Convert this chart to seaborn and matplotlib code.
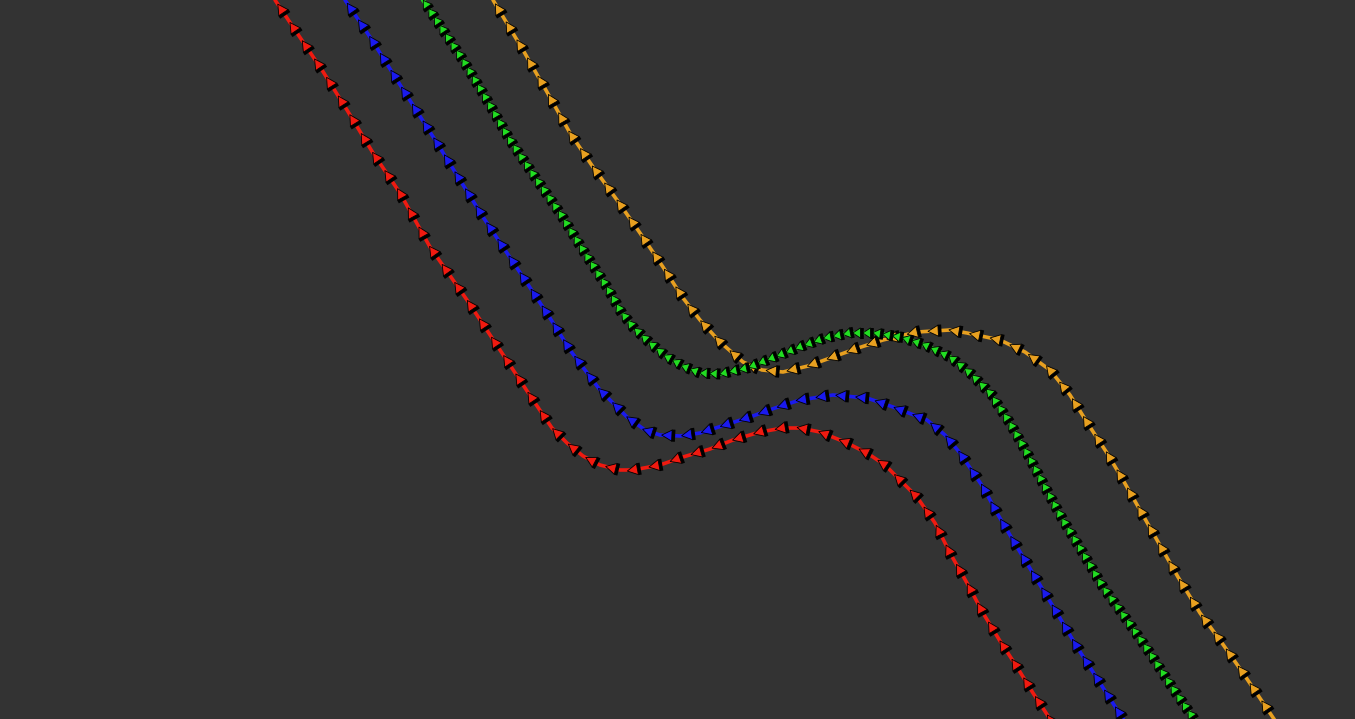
import numpy as np
import matplotlib
matplotlib.use('Agg')
import matplotlib.pyplot as plt
import matplotlib.colors as mcolors
import seaborn as sns
from matplotlib.patheffects import AbstractPathEffect
from matplotlib.path import Path
from matplotlib.transforms import IdentityTransform

# Fundo escuro, sem eixos
sns.set_theme(style='dark', rc={'axes.facecolor': '#333333', 'figure.facecolor': '#333333'})

red_x = [275, 293, 322, 347, 373, 400, 430, 467, 500, 533, 552, 567, 583, 600, 620, 633, 660, 683, 710,
         733, 760, 783, 800, 820, 845, 867, 885, 900, 917, 935, 950, 967, 983, 1000, 1017, 1033, 1052]
red_y = [0, 27, 70, 110, 153, 193, 247, 300, 350, 400, 428, 443, 456, 465, 470, 470, 465, 457, 449,
         440, 432, 428, 428, 432, 442, 453, 465, 480, 497, 523, 553, 583, 613, 641, 667, 693, 722]

blue_x = [345, 370, 397, 437, 460, 483, 505, 527, 550, 570, 600, 627, 645, 660, 680, 700, 725, 750, 775,
          800, 833, 867, 893, 927, 945, 960, 983, 997, 1017, 1037, 1057, 1077, 1100, 1125]
blue_y = [0, 37, 80, 143, 180, 217, 250, 283, 318, 350, 390, 417, 430, 435, 436, 433, 425, 417, 408,
          400, 395, 398, 407, 420, 435, 453, 487, 513, 547, 580, 613, 647, 683, 722]

green_x = [423, 443, 463, 487, 510, 535, 560, 583, 607, 620, 633, 650, 667, 685, 700, 720, 747, 775, 800,
           825, 850, 875, 900, 925, 950, 970, 990, 1010, 1027, 1045, 1063, 1083, 1103, 1127, 1150, 1172, 1196]
green_y = [0, 30, 60, 100, 140, 177, 213, 250, 287, 310, 327, 343, 357, 367, 373, 374, 368, 357, 347,
           338, 333, 333, 337, 345, 357, 373, 393, 423, 453, 487, 520, 553, 587, 620, 653, 687, 722]

orange_x = [493, 523, 547, 570, 593, 617, 640, 663, 683, 700, 720, 743, 762, 783, 808, 833, 858, 883,
            917, 950, 967, 1000, 1025, 1050, 1070, 1090, 1107, 1123, 1140, 1157, 1178, 1200, 1222, 1243, 1276]
orange_y = [0, 50, 92, 133, 167, 200, 233, 267, 298, 320, 342, 362, 370, 372, 366, 357, 348, 340,
            332, 330, 333, 340, 352, 370, 395, 427, 453, 480, 510, 540, 577, 613, 643, 673, 722]


class ArrowBeads(AbstractPathEffect):
    """Desenha pequenas setas ao longo da linha (estilo, não dados)."""

    def __init__(self, spacing=20, length=9, width=8, color='red'):
        super().__init__()
        self.spacing = spacing
        self.length = length
        self.width = width
        self.color = mcolors.to_rgb(color)

    def draw_path(self, renderer, gc, tpath, affine, rgbFace=None):
        renderer.draw_path(gc, tpath, affine, rgbFace)
        v = affine.transform(tpath.vertices)
        d = np.diff(v, axis=0)
        L = np.hypot(d[:, 0], d[:, 1])
        cum = np.concatenate([[0], np.cumsum(L)])
        s = np.arange(self.spacing / 2, cum[-1], self.spacing)
        i = np.clip(np.searchsorted(cum, s, side='right') - 1, 0, len(L) - 1)
        px = np.interp(s, cum, v[:, 0])
        py = np.interp(s, cum, v[:, 1])
        ux, uy = d[i, 0] / L[i], d[i, 1] / L[i]
        nx, ny = -uy, ux

        gc_tri = renderer.new_gc()
        gc_tri.copy_properties(gc)
        gc_tri.set_linewidth(0.6)
        gc_tri.set_foreground('black')
        gc_bar = renderer.new_gc()
        gc_bar.copy_properties(gc)
        gc_bar.set_linewidth(2.6)
        gc_bar.set_foreground('black')
        gc_bar.set_capstyle('butt')

        h = self.length / 2
        w = self.width / 2
        for k in range(len(s)):
            p = np.array([px[k], py[k]])
            u = np.array([ux[k], uy[k]])
            n = np.array([nx[k], ny[k]])
            tip = p - u * h
            base = p + u * h * 0.7
            bar = Path([base + n * w * 1.1 + u * 1.5, base - n * w * 1.1 + u * 1.5])
            renderer.draw_path(gc_bar, bar, IdentityTransform())
            tri = Path([tip, base + n * w, base - n * w, tip], closed=True)
            renderer.draw_path(gc_tri, tri, IdentityTransform(), self.color)
        gc_tri.restore()
        gc_bar.restore()


fig = plt.figure(figsize=(13.55, 7.19), dpi=100)
ax = fig.add_axes([0, 0, 1, 1])

series = [
    (red_x, red_y, '#f01a10', 2.6, 22, 12, 11),
    (blue_x, blue_y, '#1a1aee', 2.6, 20, 12, 11),
    (orange_x, orange_y, '#e8a020', 2.6, 21, 12, 11),
    (green_x, green_y, '#22dd22', 3.0, 10, 9, 10),
]
for xs, ys, cor, lw, esp, comp, larg in series:
    sns.lineplot(x=xs, y=ys, sort=False, estimator=None, color=cor, lw=lw, ax=ax)
    ax.lines[-1].set_path_effects([ArrowBeads(spacing=esp, length=comp, width=larg, color=cor)])

ax.set_xlim(0, 1355)
ax.set_ylim(719, 0)
ax.set_axis_off()

fig.savefig('out.png', dpi=100, facecolor='#333333')
